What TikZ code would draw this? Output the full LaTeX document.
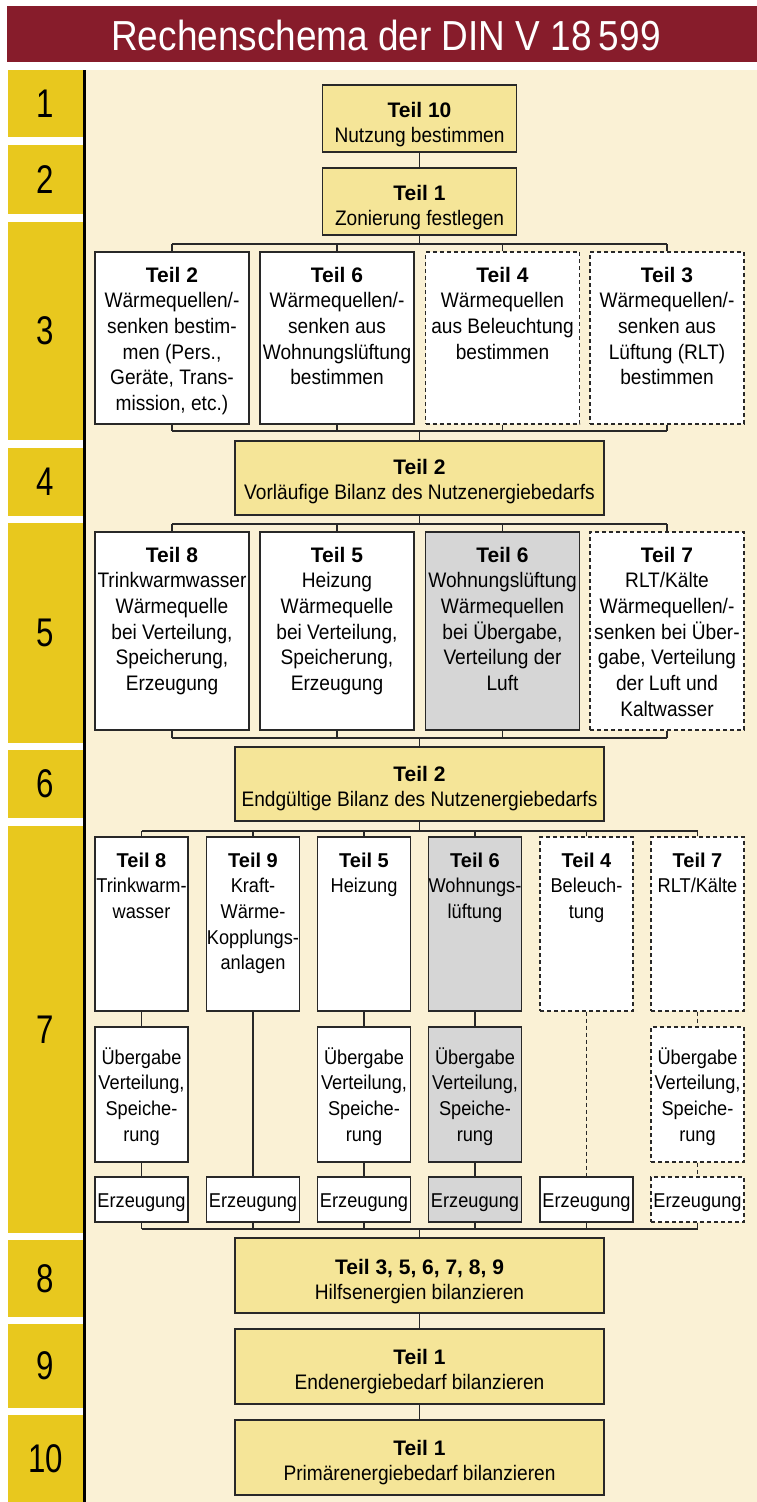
\documentclass[tikz,border=0pt]{standalone}
\usepackage{fontspec}
\setmainfont{Liberation Sans}[FakeStretch=0.91,BoldFeatures={FakeStretch=1.0}]
\newfontfamily\titlefont{Liberation Sans}[FakeStretch=0.88]
\newfontfamily\numfont{Liberation Sans}[FakeStretch=0.78]
\definecolor{barred}{RGB}{135,28,43}
\definecolor{cream}{RGB}{250,241,213}
\definecolor{colyellow}{RGB}{232,200,30}
\definecolor{boxyellow}{RGB}{245,229,152}
\definecolor{boxgray}{RGB}{214,214,214}
\definecolor{edge}{RGB}{40,40,40}
\newcommand\boxtxt[4]{\parbox[c][#2pt][t]{#1pt}{\centering\rule{0pt}{#3pt}#4\par}}
\tikzset{
  box/.style={draw=edge, line width=1.2pt, fill=white, inner sep=0pt, rectangle,
    font=\fontsize{21}{25.7}\selectfont},
  ybox/.style={box, fill=boxyellow},
  gbox/.style={box, fill=boxgray},
  dbox/.style={box, dash pattern=on 4pt off 3pt},
  narrow/.style={font=\fontsize{20}{25.7}\selectfont},
  link/.style={draw=edge, line width=1.2pt},
  dlink/.style={link, dash pattern=on 4pt off 3pt},
  cell/.style={fill=colyellow, draw=none, inner sep=0pt, minimum width=75pt,
    font=\numfont\fontsize{40}{40}\selectfont, text=black},
}
\begin{document}
\begin{tikzpicture}[x=1pt,y=-1pt]
\useasboundingbox (0,0) rectangle (757,1502);
% background
\fill[white] (0,0) rectangle (757,1502);
\fill[barred] (7,6) rectangle (757,62);
\fill[cream] (85,70) rectangle (757,1502);
\draw[black, line width=2.2pt] (84.5,70) -- (84.5,1502);
\node[anchor=base, text=white, inner sep=0pt, font=\titlefont\fontsize{42}{42}\selectfont] (title) at (386,50) {Rechenschema der DIN V 18\,599};
% number column
\node[cell, minimum height=67pt]  (n1)  at (45.5,103.5) {1};
\node[cell, minimum height=69pt]  (n2)  at (45.5,179.5) {2};
\node[cell, minimum height=218pt] (n3)  at (45.5,331) {3};
\node[cell, minimum height=68pt]  (n4)  at (45.5,482) {4};
\node[cell, minimum height=220pt] (n5)  at (45.5,633) {5};
\node[cell, minimum height=68pt]  (n6)  at (45.5,784) {6};
\node[cell, minimum height=407pt] (n7)  at (45.5,1029.5) {7};
\node[cell, minimum height=77pt]  (n8)  at (45.5,1278.5) {8};
\node[cell, minimum height=84pt]  (n9)  at (45.5,1366) {9};
\node[cell, minimum height=87pt]  (n10) at (45.5,1458.5) {10};
% rows 1-2
\node[ybox] (b10) at (419.5,118.5) {\boxtxt{194}{67}{32}{\textbf{Teil 10}\\Nutzung bestimmen}};
\node[ybox] (b1) at (419.5,201.5) {\boxtxt{194}{67}{32}{\textbf{Teil 1}\\Zonierung festlegen}};
% row 3
\node[box] (t3a) at (172,338) {\boxtxt{154}{172}{30}{\textbf{Teil 2}\\Wärmequellen/-\\senken bestim-\\men (Pers.,\\Geräte, Trans-\\mission, etc.)}};
\node[box] (t3b) at (337,338) {\boxtxt{154}{172}{30}{\textbf{Teil 6}\\Wärmequellen/-\\senken aus\\Wohnungslüftung\\bestimmen}};
\node[dbox] (t3c) at (502.5,338) {\boxtxt{154}{172}{30}{\textbf{Teil 4}\\Wärmequellen\\aus Beleuchtung\\bestimmen}};
\node[dbox] (t3d) at (667,338) {\boxtxt{154}{172}{30}{\textbf{Teil 3}\\Wärmequellen/-\\senken aus\\Lüftung (RLT)\\bestimmen}};
% row 4
\node[ybox] (b4) at (419.5,478) {\boxtxt{369}{74}{33}{\textbf{Teil 2}\\Vorläufige Bilanz des Nutzenergiebedarfs}};
% row 5
\node[box] (t5a) at (172,631) {\boxtxt{154}{198}{30}{\textbf{Teil 8}\\Trinkwarmwasser\\Wärmequelle\\bei Verteilung,\\Speicherung,\\Erzeugung}};
\node[box] (t5b) at (337,631) {\boxtxt{154}{198}{30}{\textbf{Teil 5}\\Heizung\\Wärmequelle\\bei Verteilung,\\Speicherung,\\Erzeugung}};
\node[gbox] (t5c) at (502.5,631) {\boxtxt{154}{198}{30}{\textbf{Teil 6}\\Wohnungslüftung\\Wärmequellen\\bei Übergabe,\\Verteilung der\\Luft}};
\node[dbox] (t5d) at (667,631) {\boxtxt{154}{198}{30}{\textbf{Teil 7}\\RLT/Kälte\\Wärmequellen/-\\senken bei Über-\\gabe, Verteilung\\der Luft und\\Kaltwasser}};
% row 6
\node[ybox] (b6) at (419.5,784) {\boxtxt{369}{74}{34}{\textbf{Teil 2}\\Endgültige Bilanz des Nutzenergiebedarfs}};
% row 7 top
\node[box, narrow] (s1) at (141.5,924) {\boxtxt{93}{174}{30}{\textbf{Teil 8}\\Trinkwarm-\\wasser}};
\node[box, narrow] (s2) at (253,924) {\boxtxt{93}{174}{30}{\textbf{Teil 9}\\Kraft-\\Wärme-\\Kopplungs-\\anlagen}};
\node[box, narrow] (s3) at (364,924) {\boxtxt{93}{174}{30}{\textbf{Teil 5}\\Heizung}};
\node[gbox, narrow] (s4) at (475,924) {\boxtxt{93}{174}{30}{\textbf{Teil 6}\\Wohnungs-\\lüftung}};
\node[dbox, narrow] (s5) at (586.5,924) {\boxtxt{93}{174}{30}{\textbf{Teil 4}\\Beleuch-\\tung}};
\node[dbox, narrow] (s6) at (697.5,924) {\boxtxt{93}{174}{30}{\textbf{Teil 7}\\RLT/Kälte}};
% row 7 middle
\node[box, narrow] (u1) at (141.5,1094.5) {\boxtxt{93}{135}{37}{Übergabe\\Verteilung,\\Speiche-\\rung}};
\node[box, narrow] (u3) at (364,1094.5) {\boxtxt{93}{135}{37}{Übergabe\\Verteilung,\\Speiche-\\rung}};
\node[gbox, narrow] (u4) at (475,1094.5) {\boxtxt{93}{135}{37}{Übergabe\\Verteilung,\\Speiche-\\rung}};
\node[dbox, narrow] (u6) at (697.5,1094.5) {\boxtxt{93}{135}{37}{Übergabe\\Verteilung,\\Speiche-\\rung}};
% row 7 bottom
\node[box, narrow] (e1) at (141.5,1199.5) {\boxtxt{93}{45}{30}{Erzeugung}};
\node[box, narrow] (e2) at (253,1199.5) {\boxtxt{93}{45}{30}{Erzeugung}};
\node[box, narrow] (e3) at (364,1199.5) {\boxtxt{93}{45}{30}{Erzeugung}};
\node[gbox, narrow] (e4) at (475,1199.5) {\boxtxt{93}{45}{30}{Erzeugung}};
\node[box, narrow] (e5) at (586.5,1199.5) {\boxtxt{93}{45}{30}{Erzeugung}};
\node[dbox, narrow] (e6) at (697.5,1199.5) {\boxtxt{93}{45}{30}{Erzeugung}};
% rows 8-10
\node[ybox] (b8) at (419.5,1275.5) {\boxtxt{369}{75}{36}{\textbf{Teil 3, 5, 6, 7, 8, 9}\\Hilfsenergien bilanzieren}};
\node[ybox] (b9) at (419.5,1366.5) {\boxtxt{369}{75}{35}{\textbf{Teil 1}\\Endenergiebedarf bilanzieren}};
\node[ybox] (b10b) at (419.5,1457.5) {\boxtxt{369}{75}{35}{\textbf{Teil 1}\\Primärenergiebedarf bilanzieren}};
% bus coordinates
\coordinate (bus3t) at (419.5,244);
\coordinate (bus3b) at (419.5,431);
\coordinate (bus5t) at (419.5,524);
\coordinate (bus5b) at (419.5,738);
\coordinate (bus7t) at (419.5,831);
\coordinate (bus7b) at (419.5,1229);
% connectors
\draw[link] (b10.south) -- (b1.north);
\draw[link] (b1.south) -- (bus3t);
\draw[link] (t3a.north |- bus3t) -- (t3d.north |- bus3t);
\foreach \n in {t3a,t3b,t3c,t3d} {
  \draw[link] (\n.north) -- (\n.north |- bus3t);
  \draw[link] (\n.south) -- (\n.south |- bus3b);
}
\draw[link] (t3a.south |- bus3b) -- (t3d.south |- bus3b);
\draw[link] (bus3b) -- (b4.north);
\draw[link] (b4.south) -- (bus5t);
\draw[link] (t5a.north |- bus5t) -- (t5d.north |- bus5t);
\foreach \n in {t5a,t5b,t5c,t5d} {
  \draw[link] (\n.north) -- (\n.north |- bus5t);
  \draw[link] (\n.south) -- (\n.south |- bus5b);
}
\draw[link] (t5a.south |- bus5b) -- (t5d.south |- bus5b);
\draw[link] (bus5b) -- (b6.north);
\draw[link] (b6.south) -- (bus7t);
\draw[link] (s1.north |- bus7t) -- (s6.north |- bus7t);
\foreach \n in {s1,s2,s3,s4,s5,s6} {
  \draw[link] (\n.north) -- (\n.north |- bus7t);
}
\foreach \n in {e1,e2,e3,e4,e5,e6} {
  \draw[link] (\n.south) -- (\n.south |- bus7b);
}
\draw[link] (e1.south |- bus7b) -- (e6.south |- bus7b);
\draw[link] (s1.south) -- (u1.north);
\draw[link] (u1.south) -- (e1.north);
\draw[link] (s2.south) -- (e2.north);
\draw[link] (s3.south) -- (u3.north);
\draw[link] (u3.south) -- (e3.north);
\draw[link] (s4.south) -- (u4.north);
\draw[link] (u4.south) -- (e4.north);
\draw[dlink] (s5.south) -- (e5.north);
\draw[dlink] (s6.south) -- (u6.north);
\draw[dlink] (u6.south) -- (e6.north);
\draw[link] (bus7b) -- (b8.north);
\draw[link] (b8.south) -- (b9.north);
\draw[link] (b9.south) -- (b10b.north);
\end{tikzpicture}
\end{document}
